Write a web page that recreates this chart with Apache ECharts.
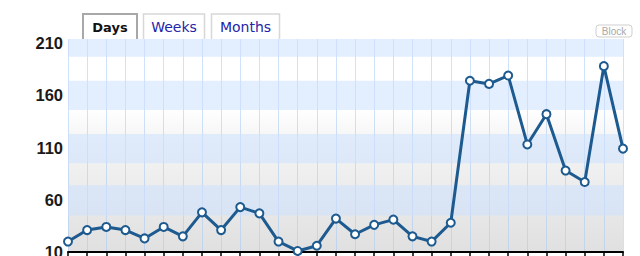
<!DOCTYPE html>
<html>
<head>
<meta charset="utf-8">
<script src="https://cdn.jsdelivr.net/npm/echarts@6/dist/echarts.min.js"></script>
<style>
html,body{margin:0;padding:0;background:#fff;}
#chart{width:640px;height:256px;}
</style>
</head>
<body>
<div id="chart"></div>
<script>
// ---- data ----
const categories = ['D1','D2','D3','D4','D5','D6','D7','D8','D9','D10','D11','D12','D13','D14','D15',
                    'D16','D17','D18','D19','D20','D21','D22','D23','D24','D25','D26','D27','D28','D29','D30'];
const values = [20, 31, 34, 31, 23, 34, 25, 48, 31, 53, 47, 20, 11, 16, 42,
                27, 36, 41, 25, 20, 38, 174, 171, 179, 113, 142, 88, 77, 188, 109];
const yTicks = [10, 60, 110, 160, 210];
const tabLabels = ['Days', 'Weeks', 'Months'];
const blockLabel = 'Block';

const chart = echarts.init(document.getElementById('chart'), null, {renderer: 'svg'});
const lineColor = '#1d5a8f';
const bandColor = 'rgba(204,224,255,0.55)';

const tabBoxes = [[83,137],[143.5,204.5],[211.5,279.5]];
const graphics = [];
tabLabels.forEach((t, i) => {
  const [x0, x1] = tabBoxes[i];
  const active = i === 0;
  graphics.push({type:'rect', shape:{x:x0, y:14, width:x1-x0, height:25}, style:{fill:'#fff'}, z:100});
  graphics.push({type:'polyline', shape:{points:[[x0,39],[x0,14],[x1,14],[x1,39]]},
    style:{stroke: active ? '#a8a8a8' : '#d8d8d8', lineWidth: active ? 2 : 1.5, fill:null}, z:101});
  graphics.push({type:'text', x:(x0+x1)/2, y:27, z:102,
    style:{text:t, align:'center', verticalAlign:'middle',
      font: active ? 'bold 13px "DejaVu Sans"' : '14px "DejaVu Sans"',
      fill: active ? '#111' : '#2424a8'}});
});
graphics.push({type:'rect', shape:{x:596, y:25, width:36, height:12, r:3},
  style:{fill:'#fff', stroke:'#cfcfcf', lineWidth:1}, z:100});
graphics.push({type:'text', x:614, y:31.5, z:101,
  style:{text:blockLabel, align:'center', verticalAlign:'middle', font:'10px "Liberation Sans"', fill:'#a8a8a8'}});

const option = {
  animation: false,
  grid: {
    left: 68, right: 17, top: 39, bottom: 4,
    outerBoundsMode: 'none',
    containLabel: false,
    show: true, borderWidth: 0,
    backgroundColor: new echarts.graphic.LinearGradient(0, 0, 0, 1, [
      {offset: 0, color: '#ffffff'},
      {offset: 0.33, color: '#ffffff'},
      {offset: 0.45, color: '#f6f6f6'},
      {offset: 1, color: '#e0e0e0'}
    ])
  },
  xAxis: {
    type: 'category',
    data: categories,
    boundaryGap: false,
    axisLine: {show: true, lineStyle: {color: '#000', width: 2}},
    axisTick: {show: true, interval: 0, length: 5, lineStyle: {color: '#000', width: 1.5}},
    axisLabel: {show: false},
    splitLine: {show: true, interval: 0, lineStyle: {color: 'rgba(170,200,245,0.55)', width: 1}}
  },
  yAxis: {
    type: 'value',
    min: 10, max: 214, interval: 50,
    axisLine: {show: false},
    axisTick: {show: false},
    splitLine: {show: false},
    axisLabel: {
      margin: 5,
      padding: [10, 0, 0, 0],
      fontFamily: '"Liberation Sans", Arial, sans-serif',
      fontWeight: 'bold', fontSize: 16.5, color: '#1a1a1a',
      formatter: v => yTicks.includes(v) ? String(v) : ''
    }
  },
  graphic: graphics,
  series: [{
    type: 'line',
    data: values,
    symbol: 'circle',
    symbolSize: 8,
    showAllSymbol: true,
    lineStyle: {color: lineColor, width: 3},
    itemStyle: {color: '#fff', borderColor: lineColor, borderWidth: 2},
    z: 5,
    markArea: {
      silent: true,
      itemStyle: {color: bandColor},
      data: [
        [{yAxis: 197}, {yAxis: 214}],
        [{yAxis: 146}, {yAxis: 174}],
        [{yAxis: 95}, {yAxis: 123}],
        [{yAxis: 45}, {yAxis: 74}]
      ]
    }
  }]
};
chart.setOption(option);
</script>
</body>
</html>
